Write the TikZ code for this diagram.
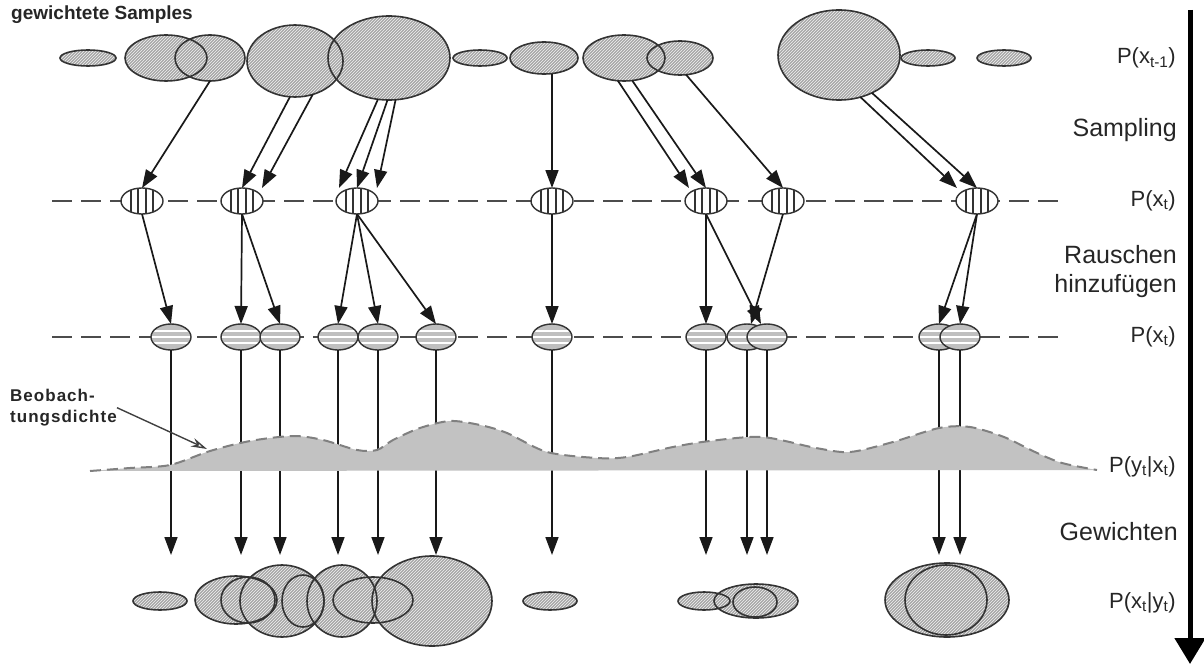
\documentclass[tikz,border=0pt]{standalone}
\usepackage{fontspec}
\setmainfont{Liberation Sans}
\usetikzlibrary{shapes.geometric,patterns,arrows.meta}

\begin{document}
\begin{tikzpicture}[x=1pt, y=-1pt,
    blob/.style={ellipse, inner sep=0pt, outer sep=0pt, fill=gray!70,
        postaction={pattern=north east lines, pattern color=gray!10}},
    ring/.style={ellipse, inner sep=0pt, outer sep=0pt, draw=black!80, line width=1.6pt},
    vsample/.style={ellipse, inner sep=0pt, outer sep=0pt, minimum width=42, minimum height=26,
        draw=black!80, line width=1.4pt, fill=white,
        path picture={\foreach \d in {-11,-4,4,11}
            \draw[black!80, line width=1.1pt] ([xshift=\d pt]path picture bounding box.north)
                -- ([xshift=\d pt]path picture bounding box.south);}},
    hsample/.style={ellipse, inner sep=0pt, outer sep=0pt, minimum width=40, minimum height=26,
        draw=black!80, line width=1.4pt, fill=gray!50,
        path picture={\foreach \d in {-6,0,6}
            \draw[white, line width=1.8pt] ([yshift=\d pt]path picture bounding box.west)
                -- ([yshift=\d pt]path picture bounding box.east);}},
    guide/.style={black!70, line width=1.6pt, dash pattern=on 20pt off 9pt},
    arr/.style={black!90, line width=1.7pt, -{Triangle[length=18pt,width=13pt]}},
    lbl/.style={anchor=east, inner sep=0pt, font=\fontsize{22}{26}\selectfont, text=black!85},
    phase/.style={anchor=east, align=right, inner sep=0pt, font=\fontsize{25}{29}\selectfont, text=black!85},
  ]
  \useasboundingbox (0,0) rectangle (1204,666);

  % dashed levels
  \coordinate (r2l) at (52,201);  \coordinate (r2r) at (1058,201);
  \coordinate (r3l) at (52,337);  \coordinate (r3r) at (1058,337);
  \draw[guide] (r2l) -- (r2r);
  \draw[guide] (r3l) -- (r3r);

  % weighted samples at t-1
  \foreach \n/\x/\y/\w/\h in {t1/88/58/56/16, t2/166/58/82/46, t3/210/58/70/46,
      t4/295/61/96/72, t5/389/58/122/84, t6/480/58/54/16, t7/544/58/68/32,
      t8/624/58/82/46, t9/680/58/66/34, t10/839/55/122/90, t11/928/58/54/16,
      t12/1004/58/54/16}
    \node[blob, minimum width=\w, minimum height=\h] (\n) at (\x,\y) {};
  \foreach \n/\x/\y/\w/\h in {t1/88/58/56/16, t2/166/58/82/46, t3/210/58/70/46,
      t4/295/61/96/72, t5/389/58/122/84, t6/480/58/54/16, t7/544/58/68/32,
      t8/624/58/82/46, t9/680/58/66/34, t10/839/55/122/90, t11/928/58/54/16,
      t12/1004/58/54/16}
    \node[ring, minimum width=\w, minimum height=\h] at (\x,\y) {};

  % resampled and noisy samples
  \foreach \n/\x in {e1/142, e2/242, e3/357, e4/552, e5/706, e6/783, e7/977}
    \node[vsample] (\n) at (\x,201) {};
  \foreach \n/\x in {f1/171, f2/241, f3/280, f4/338, f5/378, f6/436, f7/552,
      f8/706, f9/747, f10/767, f11/939, f12/960}
    \node[hsample] (\n) at (\x,337) {};

  % posterior
  \foreach \n/\x/\y/\w/\h in {b1/160/601/54/18, b2/236/600/82/48, b3/248/600/54/46,
      b4/282/601/84/72, b5/303/601/42/52, b6/342/601/70/72, b7/373/600/80/46,
      b8/432/601/120/90, b9/550/601/54/18, b10/704/601/52/18, b11/756/601/84/34,
      b12/755/602/44/30, b13/947/600/124/74, b14/946/600/82/70}
    \node[blob, minimum width=\w, minimum height=\h] (\n) at (\x,\y) {};
  \foreach \n/\x/\y/\w/\h in {b1/160/601/54/18, b2/236/600/82/48, b3/248/600/54/46,
      b4/282/601/84/72, b5/303/601/42/52, b6/342/601/70/72, b7/373/600/80/46,
      b8/432/601/120/90, b9/550/601/54/18, b10/704/601/52/18, b11/756/601/84/34,
      b12/755/602/44/30, b13/947/600/124/74, b14/946/600/82/70}
    \node[ring, minimum width=\w, minimum height=\h] at (\x,\y) {};

  % Sampling
  \foreach \a/\b/\s in {t3.south/e1/0, t4.262/e2/0, t4.298/e2/20,
      t5.255/e3/-18, t5.268/e3/0, t5.279/e3/20,
      t8.255/e5/-17, t8.290/e5/0, t9.290/e6/0,
      t10.297/e7/-20, t10.311/e7/0}
    \draw[arr] (\a) -- ([xshift=\s pt]\b.north);
  \draw[arr] (e4.north |- t7.south) -- (e4.north);

  % Rauschen
  \foreach \a/\b in {e1/f1, e2/f2, e2/f3, e3/f4, e3/f5, e3/f6, e4/f7, e5/f8, e7/f11, e7/f12}
    \draw[arr] (\a.south) -- (\b.north);
  \draw[arr] (e5.south) -- ([xshift=-6pt]f10.north);
  \draw[arr] (e6.south) -- ([xshift=4pt]f9.north);

  % Gewichten
  \coordinate (wlevel) at (0,555);
  \foreach \i in {1,...,12}
    \draw[arr] (f\i.south) -- (f\i.south |- wlevel);

  % observation density
  \fill[gray!48] plot[smooth] coordinates {(90,471) (130,468) (170,465) (210,451)
      (250,441) (293,436) (323,440) (357,450) (377,450) (393,440) (420,428) (450,421)
      (480,425) (507,433) (547,452) (597,458) (627,457) (673,447) (710,441) (762,437)
      (816,448) (850,452) (893,442) (939,428) (970,427) (1004,437) (1035,452)
      (1062,463) (1097,470)} -- cycle;
  \draw[black!50, line width=2pt, dash pattern=on 11pt off 6pt] plot[smooth] coordinates {(90,471) (130,468) (170,465) (210,451)
      (250,441) (293,436) (323,440) (357,450) (377,450) (393,440) (420,428) (450,421)
      (480,425) (507,433) (547,452) (597,458) (627,457) (673,447) (710,441) (762,437)
      (816,448) (850,452) (893,442) (939,428) (970,427) (1004,437) (1035,452)
      (1062,463) (1097,470)};

  \node[anchor=north west, align=left, inner sep=0pt,
      font=\bfseries\fontsize{17}{21}\selectfont, text=black!85] (beob) at (10,389)
      {\addfontfeatures{LetterSpace=6}Beobach-\\\addfontfeatures{LetterSpace=6}tungsdichte};
  \coordinate (obs) at (207,449);
  \draw[black!75, line width=1.4pt, -{Stealth[open, length=16pt, width=9pt]}] (beob.east) -- (obs);

  \node[anchor=north west, inner sep=0pt, font=\bfseries\fontsize{19}{21}\selectfont,
      text=black!85] (title) at (11,6) {gewichtete Samples};

  % time axis
  \coordinate (axtop) at (1190,10);
  \coordinate (axbot) at (1190,664);
  \draw[line width=5pt, -{Triangle[length=26pt,width=30pt]}] (axtop) -- (axbot);

  \node[lbl] (pprev) at (1176,58) {P(x\textsubscript{t-1})};
  \node[phase] (sampling) at (1177,130) {Sampling};
  \node[lbl] (pnow) at (1176,201) {P(x\textsubscript{t})};
  \node[phase] (noise) at (1177,272) {Rauschen\\hinzufügen};
  \node[lbl] (pnoisy) at (1176,337) {P(x\textsubscript{t})};
  \node[lbl] (plike) at (1176,467) {P(y\textsubscript{t}|x\textsubscript{t})};
  \node[phase] (weigh) at (1178,532) {Gewichten};
  \node[lbl] (ppost) at (1176,603) {P(x\textsubscript{t}|y\textsubscript{t})};
\end{tikzpicture}
\end{document}
